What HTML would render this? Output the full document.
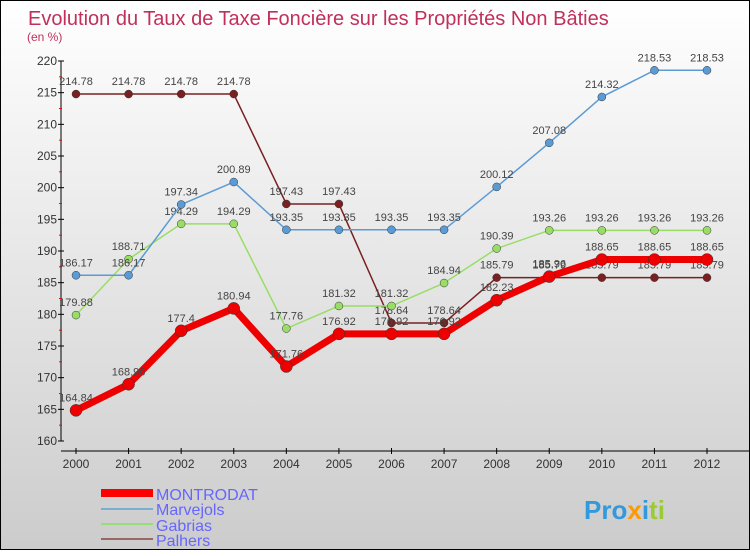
<!DOCTYPE html>
<html><head><meta charset="utf-8"><style>
body{margin:0;width:750px;height:550px;overflow:hidden}
#c{position:absolute;left:0;top:0;width:748px;height:548px;border:1px solid #000;background:linear-gradient(#fff,#ccc)}
text{font-family:"Liberation Sans",sans-serif}
</style></head><body>
<div id="c">
<svg id="s" width="750" height="550">
<text x="27" y="24" font-size="20" fill="#c0305a">Evolution du Taux de Taxe Foncière sur les Propriétés Non Bâties</text>
<text x="26" y="40" font-size="12" fill="#c0305a">(en %)</text>
<g id="axes"></g><g id="series"></g>
<g>
<rect x="100" y="488" width="52" height="8" fill="#f00"/>
<text x="155" y="499" font-size="16" fill="#6666ff">MONTRODAT</text>
<rect x="100" y="507" width="52" height="2" fill="#7aaed0"/>
<text x="155" y="514" font-size="16" fill="#6666ff">Marvejols</text>
<rect x="100" y="522" width="52" height="2" fill="#99dd77"/>
<text x="155" y="530" font-size="16" fill="#6666ff">Gabrias</text>
<rect x="100" y="537" width="52" height="2" fill="#996666"/>
<text x="155" y="545" font-size="16" fill="#6666ff">Palhers</text>
</g>
<text x="583" y="518" font-size="26" font-weight="bold"><tspan fill="#3399dd">Pro</tspan><tspan fill="#ff9900">x</tspan><tspan fill="#3399dd">i</tspan><tspan fill="#99cc33">ti</tspan></text>
</svg></div>
<script>
const years=[2000,2001,2002,2003,2004,2005,2006,2007,2008,2009,2010,2011,2012];
const yTicks=[160,165,170,175,180,185,190,195,200,205,210,215,220];
const montrodat=[164.84,168.96,177.4,180.94,171.76,176.92,176.92,176.92,182.23,185.96,188.65,188.65,188.65];
const marvejols=[186.17,186.17,197.34,200.89,193.35,193.35,193.35,193.35,200.12,207.08,214.32,218.53,218.53];
const gabrias=[179.88,188.71,194.29,194.29,177.76,181.32,181.32,184.94,190.39,193.26,193.26,193.26,193.26];
const palhers=[214.78,214.78,214.78,214.78,197.43,197.43,178.64,178.64,185.79,185.79,185.79,185.79,185.79];
const NS='http://www.w3.org/2000/svg';
const X=i=>75+i*(706-75)/(years.length-1);
const Y=v=>440-(v-160)*(380/60);
function mk(t,a,p){const e=document.createElementNS(NS,t);for(const k in a)e.setAttribute(k,a[k]);p.appendChild(e);return e;}
const ax=document.getElementById('axes');
let l=mk('line',{x1:60,y1:Y(220),x2:60,y2:Y(160),stroke:'#000'},ax);


l=mk('line',{x1:60,y1:450,x2:750,y2:450,stroke:'#000'},ax);


yTicks.forEach(v=>{
 mk('line',{x1:57,y1:Y(v),x2:63,y2:Y(v),stroke:'#000'},ax);
 if(v<220)mk('line',{x1:58,y1:Y(v+2.5),x2:61,y2:Y(v+2.5),stroke:'#f00'},ax);
 const t=mk('text',{x:56,y:Y(v)+4,'font-size':12,fill:'#333','text-anchor':'end'},ax);t.textContent=v;
 
 
});
years.forEach((y,i)=>{
 mk('line',{x1:X(i),y1:447,x2:X(i),y2:453,stroke:'#000'},ax);
 const t=mk('text',{x:X(i),y:467,'font-size':12,fill:'#333','text-anchor':'middle'},ax);t.textContent=y;
 
 
});
const sg=document.getElementById('series');
function draw(name,data,color,w,r){
 const g=mk('g',{},sg);
 
 
 mk('polyline',{points:data.map((v,i)=>X(i)+','+Y(v)).join(' '),fill:'none',stroke:color,'stroke-width':w,'stroke-linejoin':'round'},g);
 data.forEach((v,i)=>{
  const c=mk('circle',{cx:X(i),cy:Y(v),r:r,fill:color,stroke:'#333','stroke-width':0.5},g);
  
  
  const t=mk('text',{x:X(i),y:Y(v)-9,'font-size':11,fill:'#444','text-anchor':'middle'},g);t.textContent=v.toFixed(2).replace(/\.?0+$/,'');
  
  
 });
}
draw('palhers',palhers,'#7a2020',1.5,4);
draw('gabrias',gabrias,'#99dd66',1.5,4);
draw('marvejols',marvejols,'#5b9bd5',1.5,4);
draw('montrodat',montrodat,'#ee0000',7,6);
</script></body></html>
